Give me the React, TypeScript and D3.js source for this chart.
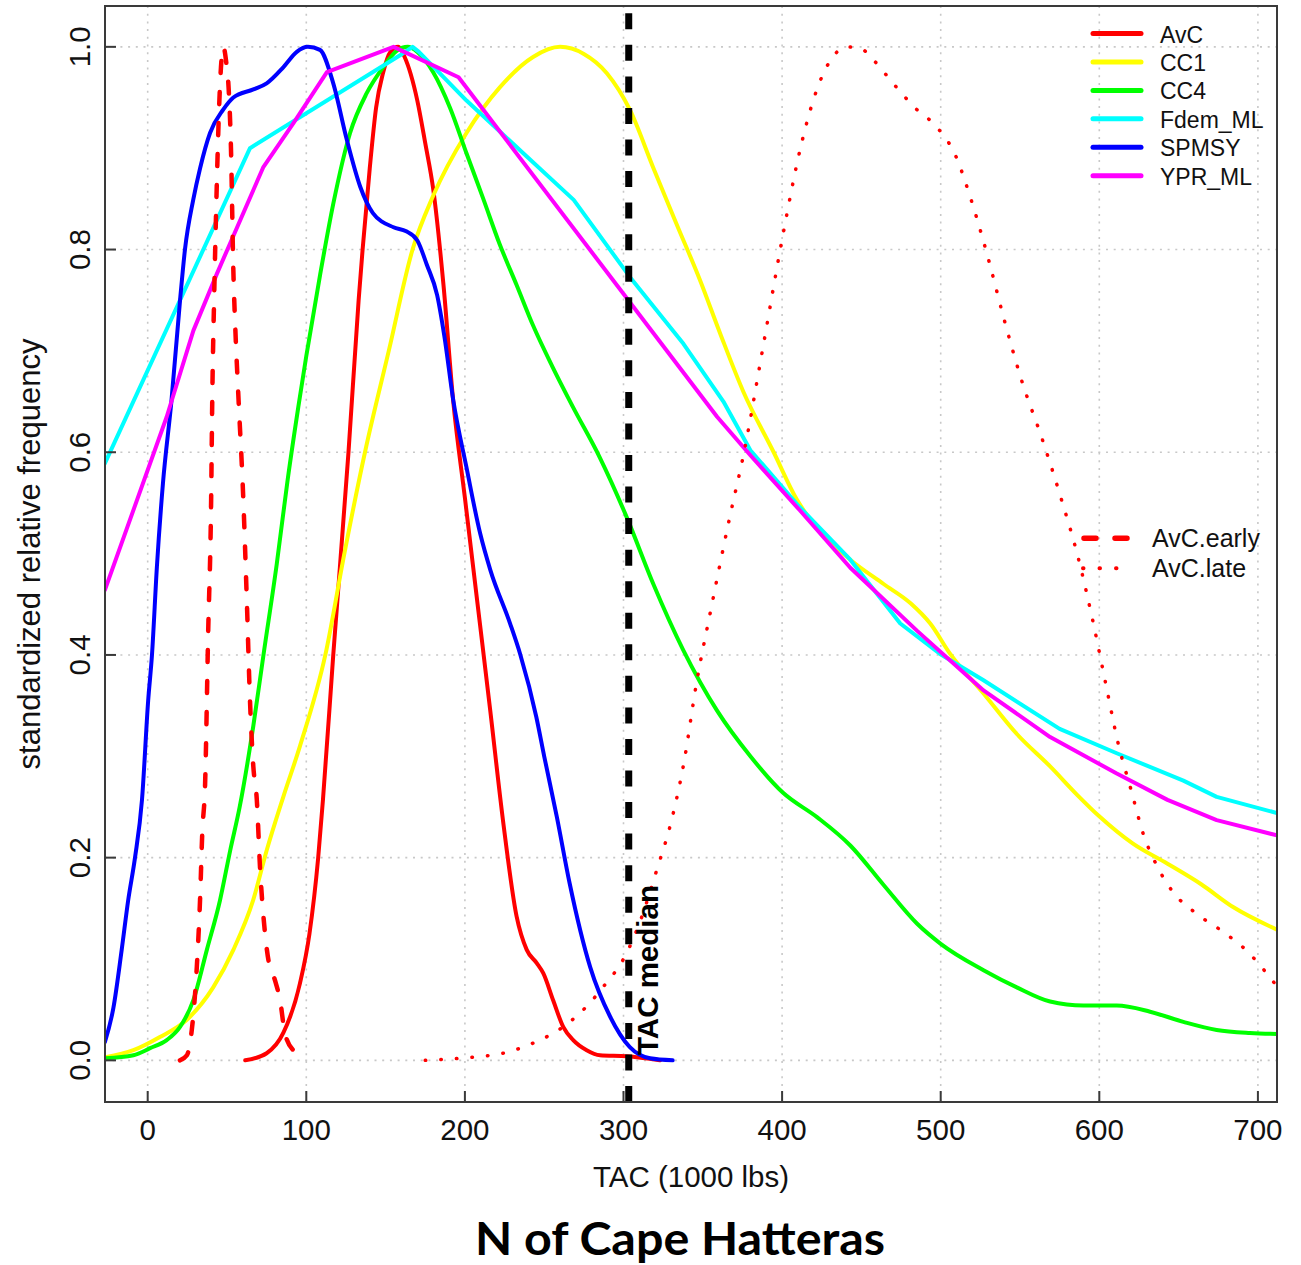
import React from 'react';
import * as d3 from 'd3';

type Pt = [number, number];

// ---- data (TAC in 1000 lbs, standardized relative frequency) ----
const avc: Pt[] = [[61.5,0],[75,0.007],[85.5,0.027],[96,0.076],[102,0.125],[107.5,0.2],[110.5,0.257],[117,0.4],[126.6,0.6],[133,0.75],[135.5,0.8],[140,0.88],[144,0.94],[148.5,0.975],[153,0.995],[158,1.0],[162,0.99],[170,0.947],[175,0.905],[180,0.86],[186.5,0.765],[192.6,0.651],[200,0.555],[208,0.45],[216,0.345],[224,0.237],[232.6,0.142],[239,0.109],[245.3,0.096],[249.4,0.086],[255.7,0.059],[262,0.033],[268.3,0.02],[276.8,0.01],[285.2,0.005],[302,0.004],[323,0]];

const cc1: Pt[] = [[-27,0.003],[-9,0.01],[7.7,0.023],[24.7,0.04],[41.3,0.072],[54,0.109],[66.5,0.158],[75,0.207],[85.5,0.26],[96,0.31],[112,0.4],[124,0.5],[137,0.6],[152,0.7],[167,0.8],[180,0.853],[201,0.915],[222,0.96],[243,0.99],[260,1.0],[275,0.993],[289.5,0.974],[304,0.938],[318.7,0.881],[333.5,0.825],[348.2,0.77],[361,0.717],[375.5,0.66],[394.7,0.6],[409.4,0.553],[425,0.52],[443,0.494],[464,0.47],[481,0.451],[493.4,0.431],[506,0.401],[527,0.362],[548,0.322],[569,0.29],[586,0.262],[600.5,0.24],[621,0.214],[643,0.194],[664,0.174],[684.6,0.151],[712,0.129]];

const cc4: Pt[] = [[-27,0.002],[-9,0.005],[1.5,0.012],[12,0.02],[20.4,0.033],[28.9,0.06],[37.3,0.109],[45.6,0.158],[52,0.207],[58,0.25],[66.6,0.33],[73,0.4],[81.4,0.49],[88,0.57],[95,0.645],[100,0.695],[108.7,0.775],[117,0.845],[127.6,0.915],[138,0.954],[148.5,0.98],[157,0.996],[164,1.0],[170,0.995],[180,0.975],[190.6,0.94],[201,0.895],[211.6,0.85],[222,0.805],[232.6,0.765],[243,0.725],[255,0.685],[268,0.645],[285,0.595],[302,0.536],[318.8,0.47],[337.6,0.405],[359,0.345],[380,0.3],[400.6,0.264],[422,0.24],[443,0.212],[464,0.173],[485,0.135],[500,0.115],[527,0.089],[548,0.072],[569,0.058],[590,0.054],[611,0.054],[632,0.048],[653,0.038],[674,0.03],[695,0.027],[712,0.026]];

const fdemML: Pt[] = [[-27,0.589],[64.5,0.9],[160.4,0.993],[167,1.0],[171,0.995],[201,0.947],[236.8,0.895],[268.6,0.849],[304,0.773],[337.8,0.707],[363,0.65],[380,0.602],[411,0.546],[443,0.494],[474.5,0.431],[499.6,0.401],[527,0.375],[575,0.327],[611,0.303],[653,0.276],[674,0.26],[712,0.244]];

const spmsy: Pt[] = [[-27,0.018],[-21.6,0.052],[-16.4,0.109],[-12.3,0.158],[-8,0.2],[-3.6,0.257],[0.3,0.355],[2.7,0.4],[5.8,0.487],[9.6,0.569],[15,0.651],[20.4,0.75],[23.5,0.8],[28.7,0.849],[33,0.88],[39.3,0.915],[47.6,0.938],[54,0.95],[66.6,0.958],[75,0.964],[85.6,0.98],[94,0.995],[101,1.0],[108.6,0.997],[117,0.964],[125.6,0.908],[134,0.862],[142,0.836],[155,0.822],[163,0.818],[170,0.809],[176,0.785],[182.5,0.755],[187,0.715],[192.7,0.651],[201,0.585],[209.6,0.52],[216,0.484],[228.5,0.431],[235,0.4],[245,0.339],[250,0.3],[258,0.24],[266,0.175],[279,0.092],[291.6,0.043],[304,0.013],[316.7,0.002],[331,0]];

const yprML: Pt[] = [[-27,0.464],[12,0.635],[28.8,0.72],[43.6,0.776],[72.8,0.881],[92,0.925],[113,0.975],[155,1.0],[196,0.97],[359,0.635],[380,0.597],[411,0.543],[443,0.486],[485,0.424],[527,0.365],[569,0.319],[611,0.283],[643,0.257],[674,0.237],[712,0.222]];

const avcEarly: Pt[] = [[20.3,0],[24.7,0.005],[27.8,0.03],[31,0.093],[33,0.158],[34.4,0.224],[36.2,0.273],[38.1,0.42],[40,0.553],[40.7,0.651],[42,0.76],[43.5,0.86],[44.8,0.93],[46.2,0.98],[47.7,1.0],[49.5,0.985],[51,0.96],[52.5,0.9],[54,0.78],[55.3,0.72],[57.1,0.658],[60.3,0.553],[62.5,0.454],[64.5,0.355],[66.6,0.29],[68.8,0.257],[70.8,0.191],[74,0.125],[77,0.092],[79.2,0.084],[81,0.075],[83.4,0.06],[86.5,0.027],[91.8,0.01],[101,0.002]];

const avcLate: Pt[] = [[175,0],[204,0.003],[224,0.007],[243,0.017],[261,0.032],[276,0.052],[288,0.074],[300,0.1],[310,0.135],[321,0.188],[330,0.235],[338,0.293],[346,0.372],[355,0.444],[367,0.536],[376,0.6],[388,0.704],[400,0.81],[412,0.903],[420,0.949],[427,0.977],[432,0.99],[440,1.0],[450,0.998],[457,0.988],[470,0.964],[483,0.941],[498,0.92],[509,0.894],[519,0.85],[530,0.791],[540,0.731],[551,0.671],[564,0.613],[576,0.554],[587,0.494],[596,0.433],[604,0.372],[612,0.312],[620,0.267],[628,0.222],[636,0.193],[646,0.167],[661,0.145],[677,0.128],[693,0.108],[706,0.085],[712,0.073]];

const tacMedian = 303.3;

const xTicks = [0, 100, 200, 300, 400, 500, 600, 700];
const yTicks = [0, 0.2, 0.4, 0.6, 0.8, 1.0];

const legendNames = ['AvC', 'CC1', 'CC4', 'Fdem_ML', 'SPMSY', 'YPR_ML'];
const legendColors = ['#FF0000', '#FFFF00', '#00FF00', '#00FFFF', '#0000FF', '#FF00FF'];
const legend2Names = ['AvC.early', 'AvC.late'];

const solidSeries: { data: Pt[]; color: string; smooth: boolean }[] = [
  { data: avc, color: legendColors[0], smooth: true },
  { data: cc1, color: legendColors[1], smooth: true },
  { data: cc4, color: legendColors[2], smooth: true },
  { data: fdemML, color: legendColors[3], smooth: false },
  { data: spmsy, color: legendColors[4], smooth: true },
  { data: yprML, color: legendColors[5], smooth: false },
];

const FONT = '"Liberation Sans", Arial, Helvetica, sans-serif';

export default function App() {
  const W = 1301, H = 1265;
  const left = 105, right = 1277, top = 6, bottom = 1102;
  const x = d3.scaleLinear().domain([-26.92, 712.04]).range([left, right]);
  const y = d3.scaleLinear().domain([-0.0411, 1.0403]).range([bottom, top]);
  const smooth = d3.line<Pt>().x(d => x(d[0])).y(d => y(d[1])).curve(d3.curveMonotoneX);
  const linear = d3.line<Pt>().x(d => x(d[0])).y(d => y(d[1]));
  const fmt = d3.format('.1f');
  const textCol = '#111';
  const axisCol = '#3a3a3a';

  return (
    <svg width={W} height={H} style={{ position: 'absolute', left: 0, top: 0, background: '#fff' }}>
      <defs>
        <clipPath id="plotclip">
          <rect x={left} y={top} width={right - left} height={bottom - top} />
        </clipPath>
      </defs>
      <rect x={0} y={0} width={W} height={H} fill="#fff" />
      {/* grid */}
      <g stroke="#c8c8c8" strokeWidth={1.6} strokeDasharray="2 5.7">
        {xTicks.map(t => (
          <line key={'gx' + t} x1={x(t)} x2={x(t)} y1={top} y2={bottom} />
        ))}
        {yTicks.map(t => (
          <line key={'gy' + t} x1={left} x2={right} y1={y(t)} y2={y(t)} />
        ))}
      </g>
      {/* series */}
      <g clipPath="url(#plotclip)" fill="none">
        {solidSeries.map((s, i) => (
          <path key={i} d={(s.smooth ? smooth : linear)(s.data) || ''} stroke={s.color} strokeWidth={4} strokeLinejoin="round" strokeLinecap="round" />
        ))}
        <path d={smooth(avcEarly) || ''} stroke="#FF0000" strokeWidth={4.5} strokeDasharray="12 19" strokeLinecap="round" />
        <path d={smooth(avcLate) || ''} stroke="#FF0000" strokeWidth={3.5} strokeDasharray="0.5 15.1" strokeLinecap="round" />
        <line x1={x(tacMedian)} x2={x(tacMedian)} y1={bottom} y2={top} stroke="#000" strokeWidth={7} strokeDasharray="16 15.55" />
      </g>
      <text transform={`translate(${x(tacMedian) + 29},1055) rotate(-90)`} fontFamily={FONT} fontWeight="bold" fontSize={29.5} fill="#000" textAnchor="start">TAC median</text>
      {/* box */}
      <rect x={left} y={top} width={right - left} height={bottom - top} fill="none" stroke={axisCol} strokeWidth={2} />
      {/* ticks */}
      <g stroke={axisCol} strokeWidth={2}>
        {xTicks.map(t => (
          <line key={'tx' + t} x1={x(t)} x2={x(t)} y1={bottom} y2={bottom - 11} />
        ))}
        {yTicks.map(t => (
          <line key={'ty' + t} x1={left} x2={left + 11} y1={y(t)} y2={y(t)} />
        ))}
      </g>
      <g fontFamily={FONT} fontSize={29.5} fill={textCol}>
        {xTicks.map(t => (
          <text key={'lx' + t} x={x(t)} y={1140} textAnchor="middle">{t}</text>
        ))}
        {yTicks.map(t => (
          <text key={'ly' + t} transform={`translate(90,${y(t)}) rotate(-90)`} textAnchor="middle">{fmt(t)}</text>
        ))}
        <text x={(left + right) / 2} y={1187} textAnchor="middle">TAC (1000 lbs)</text>
        <text transform={`translate(40,${(top + bottom) / 2}) rotate(-90)`} textAnchor="middle" fontSize={31}>standardized relative frequency</text>
      </g>
      {/* legend 1 */}
      <g fontFamily={FONT} fontSize={23} fill={textCol}>
        {legendNames.map((n, i) => {
          const ry = 33.5 + i * 28.45;
          return (
            <g key={n}>
              <line x1={1093} x2={1141} y1={ry} y2={ry} stroke={legendColors[i]} strokeWidth={5} strokeLinecap="round" />
              <text x={1160} y={ry + 9}>{n}</text>
            </g>
          );
        })}
      </g>
      {/* legend 2 */}
      <g fontFamily={FONT} fontSize={25} fill={textCol}>
        <line x1={1084} x2={1128} y1={538.3} y2={538.3} stroke="#FF0000" strokeWidth={5.5} strokeDasharray="12 19" strokeLinecap="round" />
        <text x={1152} y={546.7}>{legend2Names[0]}</text>
        <line x1={1083} x2={1128} y1={568.3} y2={568.3} stroke="#FF0000" strokeWidth={4} strokeDasharray="0.5 16" strokeLinecap="round" />
        <text x={1152} y={576.7}>{legend2Names[1]}</text>
      </g>
      {/* title */}
      <text x={680} y={1255} textAnchor="middle" fontFamily="Lato, 'Open Sans', sans-serif" fontWeight="bold" fontSize={45} textLength={410} lengthAdjust="spacingAndGlyphs" fill="#000">N of Cape Hatteras</text>
    </svg>
  );
}
